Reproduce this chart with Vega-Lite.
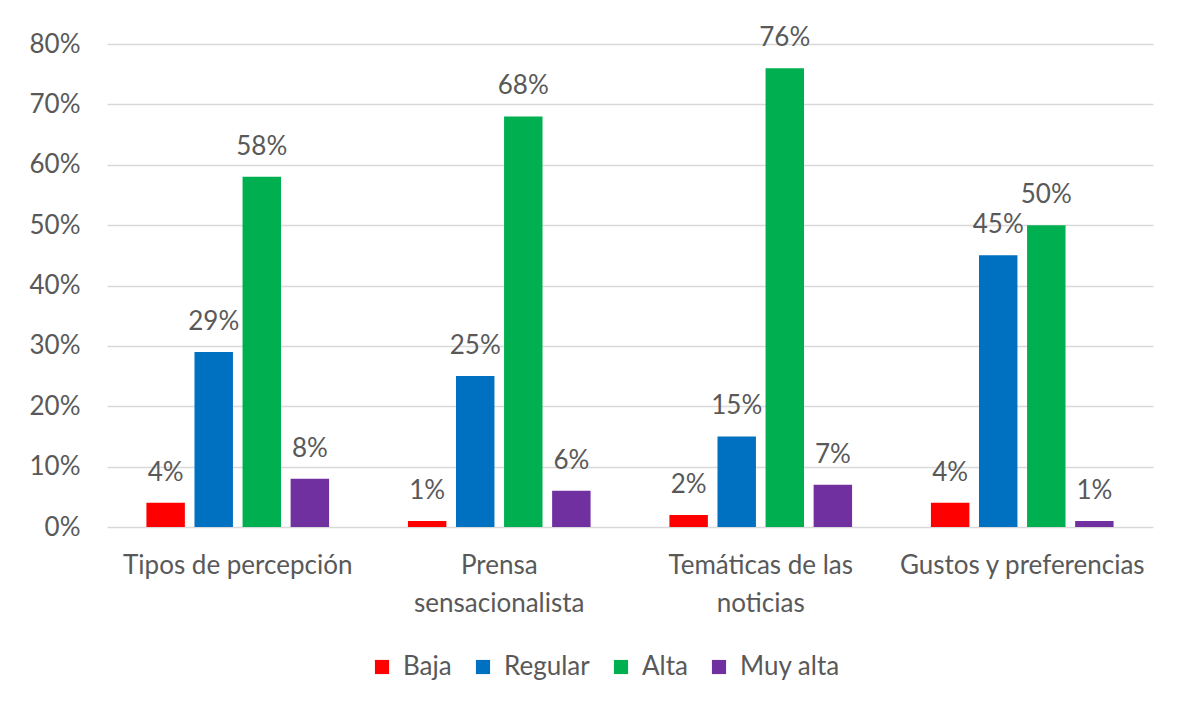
{
  "$schema": "https://vega.github.io/schema/vega-lite/v6.json",
  "width": 1046,
  "height": 483,
  "autosize": {"type": "none"},
  "padding": {"left": 107, "top": 44, "right": 37, "bottom": 184},
  "background": "white",
  "data": {
    "values": [
      {"categoria": "Tipos de percepción", "nivel": "Baja", "valor": 0.04},
      {"categoria": "Tipos de percepción", "nivel": "Regular", "valor": 0.29},
      {"categoria": "Tipos de percepción", "nivel": "Alta", "valor": 0.58},
      {"categoria": "Tipos de percepción", "nivel": "Muy alta", "valor": 0.08},
      {"categoria": "Prensa sensacionalista", "nivel": "Baja", "valor": 0.01},
      {"categoria": "Prensa sensacionalista", "nivel": "Regular", "valor": 0.25},
      {"categoria": "Prensa sensacionalista", "nivel": "Alta", "valor": 0.68},
      {"categoria": "Prensa sensacionalista", "nivel": "Muy alta", "valor": 0.06},
      {"categoria": "Temáticas de las noticias", "nivel": "Baja", "valor": 0.02},
      {"categoria": "Temáticas de las noticias", "nivel": "Regular", "valor": 0.15},
      {"categoria": "Temáticas de las noticias", "nivel": "Alta", "valor": 0.76},
      {"categoria": "Temáticas de las noticias", "nivel": "Muy alta", "valor": 0.07},
      {"categoria": "Gustos y preferencias", "nivel": "Baja", "valor": 0.04},
      {"categoria": "Gustos y preferencias", "nivel": "Regular", "valor": 0.45},
      {"categoria": "Gustos y preferencias", "nivel": "Alta", "valor": 0.50},
      {"categoria": "Gustos y preferencias", "nivel": "Muy alta", "valor": 0.01}
    ]
  },
  "encoding": {
    "x": {
      "field": "categoria",
      "type": "nominal",
      "sort": null,
      "scale": {"paddingInner": 0, "paddingOuter": 0},
      "axis": {
        "title": null,
        "labelAngle": 0,
        "domain": false,
        "ticks": false,
        "labelPadding": 25,
        "labelFontSize": 26,
        "labelLineHeight": 38,
        "labelLimit": 0,
        "labelOverlap": false,
        "labelColor": "#595959",
        "labelFont": "Lato",
        "labelExpr": "datum.label == 'Prensa sensacionalista' ? ['Prensa', 'sensacionalista'] : datum.label == 'Temáticas de las noticias' ? ['Temáticas de las', 'noticias'] : datum.label"
      }
    },
    "xOffset": {
      "field": "nivel",
      "type": "nominal",
      "sort": ["Baja", "Regular", "Alta", "Muy alta"],
      "scale": {"paddingInner": 0.2, "paddingOuter": 0.82}
    },
    "y": {
      "field": "valor",
      "type": "quantitative",
      "scale": {"domain": [0, 0.8]},
      "axis": {
        "title": null,
        "format": ".0%",
        "values": [0, 0.1, 0.2, 0.3, 0.4, 0.5, 0.6, 0.7, 0.8],
        "labelOverlap": false,
        "domain": false,
        "ticks": false,
        "labelPadding": 27,
        "labelFontSize": 26,
        "labelColor": "#595959",
        "labelFont": "Lato",
        "gridColor": "#D9D9D9",
        "gridWidth": 1.5
      }
    }
  },
  "layer": [
    {
      "mark": {"type": "bar"},
      "encoding": {
        "color": {
          "field": "nivel",
          "type": "nominal",
          "sort": ["Baja", "Regular", "Alta", "Muy alta"],
          "scale": {
            "domain": ["Baja", "Regular", "Alta", "Muy alta"],
            "range": ["#FF0000", "#0070C0", "#00B050", "#7030A0"]
          },
          "legend": {
            "title": null,
            "orient": "none",
            "legendX": 262,
            "legendY": 610,
            "direction": "horizontal",
            "symbolType": "square",
            "symbolSize": 200,
            "symbolStrokeWidth": 0,
            "labelFontSize": 26,
            "labelColor": "#595959",
            "labelFont": "Lato",
            "columnPadding": 18,
            "labelOffset": 8
          }
        }
      }
    },
    {
      "mark": {
        "type": "text",
        "baseline": "alphabetic",
        "dy": -22,
        "fontSize": 26,
        "font": "Lato",
        "color": "#595959"
      },
      "encoding": {
        "text": {"field": "valor", "type": "quantitative", "format": ".0%"}
      }
    }
  ],
  "config": {
    "view": {"stroke": null}
  }
}
